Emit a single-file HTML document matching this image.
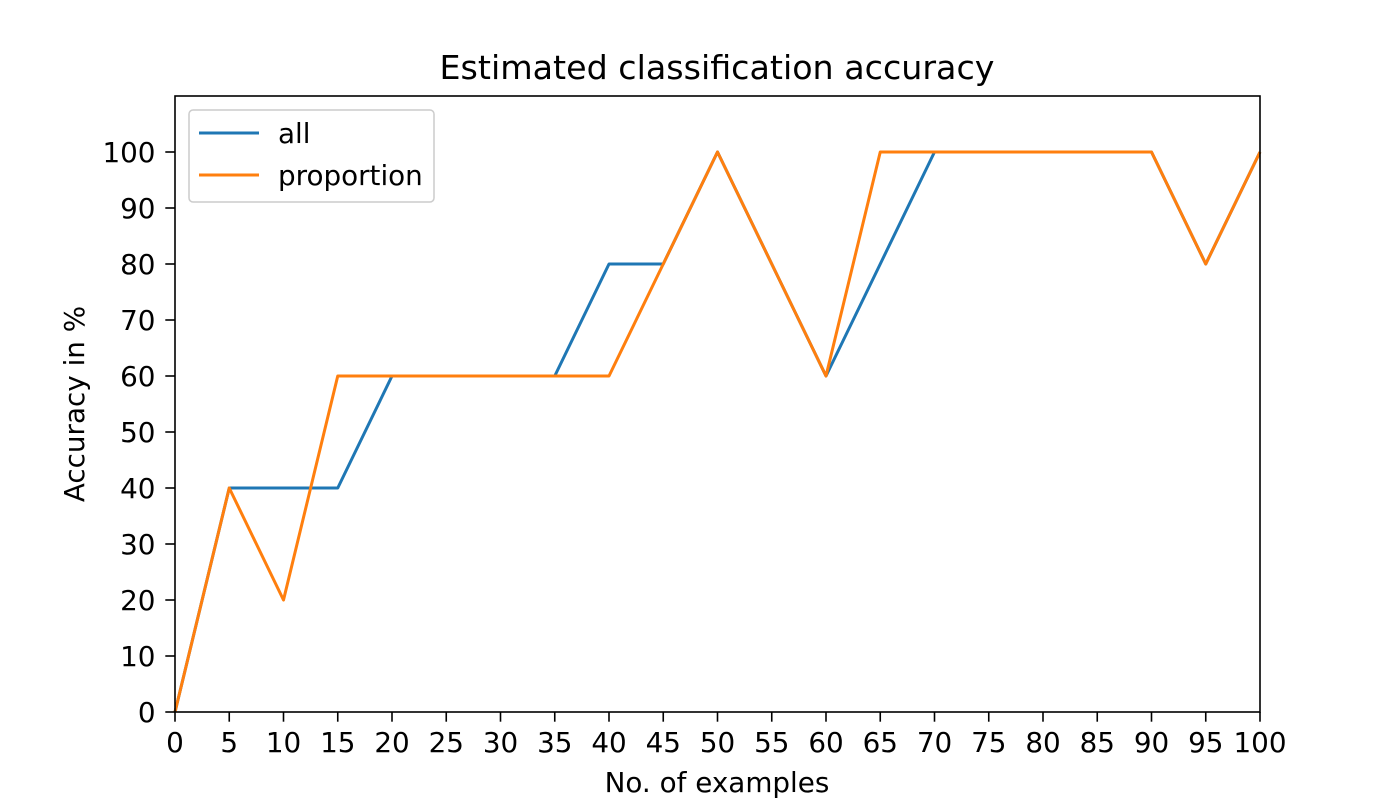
<!DOCTYPE html>
<html>
<head>
<meta charset="utf-8">
<style>
  html,body{margin:0;padding:0;background:#fff;}
  svg{display:block;font-family:"DejaVu Sans","Liberation Sans",sans-serif;}
</style>
</head>
<body>
<svg id="chart" width="1400" height="800" viewBox="0 0 1400 800">
  <rect x="0" y="0" width="1400" height="800" fill="#fff"/>
  <text x="717" y="79" text-anchor="middle" font-size="33.3" fill="#000">Estimated classification accuracy</text>
  <g id="series"></g>
  <rect x="175" y="96" width="1085" height="616" fill="none" stroke="#000" stroke-width="1.6"/>
  <g id="xticks"></g>
  <g id="yticks"></g>
  <text x="717" y="792" text-anchor="middle" font-size="27.8" fill="#000">No. of examples</text>
  <text transform="translate(84,404) rotate(-90)" text-anchor="middle" font-size="27.8" fill="#000">Accuracy in %</text>
  <g>
    <rect x="189" y="110" width="245" height="92" rx="4" fill="#fff" stroke="#ccc" stroke-width="1.5"/>
    <line x1="199" y1="133" x2="259" y2="133" stroke="#1f77b4" stroke-width="3"/>
    <text x="278" y="143" font-size="27.8" fill="#000">all</text>
    <line x1="199" y1="175" x2="259" y2="175" stroke="#ff7f0e" stroke-width="3"/>
    <text x="278" y="185" font-size="27.8" fill="#000">proportion</text>
  </g>
</svg>
<script>
const xValues = [0,5,10,15,20,25,30,35,40,45,50,55,60,65,70,75,80,85,90,95,100];
const allValues = [0,40,40,40,60,60,60,60,80,80,100,80,60,80,100,100,100,100,100,80,100];
const proportionValues = [0,40,20,60,60,60,60,60,60,80,100,80,60,100,100,100,100,100,100,80,100];
const xTickLabels = [0,5,10,15,20,25,30,35,40,45,50,55,60,65,70,75,80,85,90,95,100];
const yTickLabels = [0,10,20,30,40,50,60,70,80,90,100];

const NS = "http://www.w3.org/2000/svg";
const X0 = 175, X1 = 1260, Y0 = 712, Y1 = 96;
const xMin = 0, xMax = 100, yMin = 0, yMax = 110;
function sx(v){ return X0 + (v - xMin) / (xMax - xMin) * (X1 - X0); }
function sy(v){ return Y0 - (v - yMin) / (yMax - yMin) * (Y0 - Y1); }
function mk(tag, attrs){ const e = document.createElementNS(NS, tag); for (const k in attrs) e.setAttribute(k, attrs[k]); return e; }

const xg = document.getElementById('xticks');
xTickLabels.forEach(v => {
  const t = mk('line', {x1: sx(v), x2: sx(v), y1: Y0, y2: Y0 + 9.7, stroke: '#000', 'stroke-width': 1.6});
  
  
  xg.appendChild(t);
  const l = mk('text', {x: sx(v), y: Y0 + 40, 'text-anchor': 'middle', 'font-size': 27.8, fill: '#000'});
  
  
  l.textContent = v;
  xg.appendChild(l);
});

const yg = document.getElementById('yticks');
yTickLabels.forEach(v => {
  const t = mk('line', {x1: X0 - 9.7, x2: X0, y1: sy(v), y2: sy(v), stroke: '#000', 'stroke-width': 1.6});
  
  
  yg.appendChild(t);
  const l = mk('text', {x: X0 - 19.5, y: sy(v) + 10, 'text-anchor': 'end', 'font-size': 27.8, fill: '#000'});
  
  
  l.textContent = v;
  yg.appendChild(l);
});

const sg = document.getElementById('series');
function drawSeries(vals, color, name){
  const pts = vals.map((v, i) => sx(xValues[i]) + ',' + sy(v)).join(' ');
  const p = mk('polyline', {points: pts, fill: 'none', stroke: color, 'stroke-width': 3, 'stroke-linejoin': 'round'});
  
  
  sg.appendChild(p);
}
drawSeries(allValues, '#1f77b4', 'series-all-line');
drawSeries(proportionValues, '#ff7f0e', 'series-proportion-line');
</script>
</body>
</html>
